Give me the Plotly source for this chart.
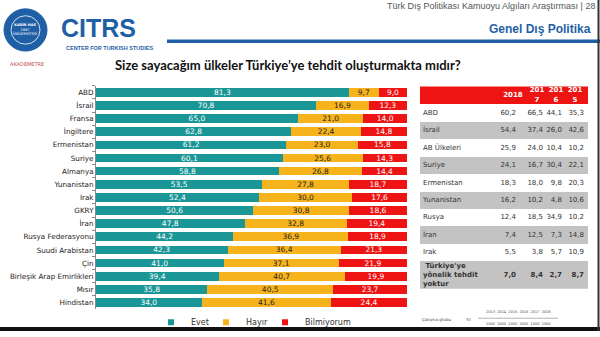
import plotly.graph_objects as go

# ---------------- data ----------------
countries = ["ABD", "İsrail", "Fransa", "İngiltere", "Ermenistan", "Suriye", "Almanya",
             "Yunanistan", "Irak", "GKRY", "İran", "Rusya Federasyonu", "Suudi Arabistan",
             "Çin", "Birleşik Arap Emirlikleri", "Mısır", "Hindistan"]
evet = [81.3, 70.8, 65.0, 62.8, 61.2, 60.1, 58.8, 53.5, 52.4, 50.6, 47.8, 44.2, 42.3,
        41.0, 39.4, 35.8, 34.0]
hayir = [9.7, 16.9, 21.0, 22.4, 23.0, 25.6, 26.8, 27.8, 30.0, 30.8, 32.8, 36.9, 36.4,
         37.1, 40.7, 40.5, 41.6]
bilmiyorum = [9.0, 12.3, 14.0, 14.8, 15.8, 14.3, 14.4, 18.7, 17.6, 18.6, 19.4, 18.9, 21.3,
              21.9, 19.9, 23.7, 24.4]
series_names = ["Evet", "Hayır", "Bilmiyorum"]

table_rows = ["ABD", "İsrail", "AB Ülkeleri", "Suriye", "Ermenistan", "Yunanistan", "Rusya",
              "İran", "Irak", " Türkiye'ye<br>yönelik tehdit<br>yoktur"]
t2018 = [60.2, 54.4, 25.9, 24.1, 18.3, 16.2, 12.4, 7.4, 5.5, 7.0]
t2017 = [66.5, 37.4, 24.0, 16.7, 18.0, 10.2, 18.5, 12.5, 3.8, 8.4]
t2016 = [44.1, 26.0, 10.4, 30.4, 9.8, 4.8, 34.9, 7.3, 5.7, 2.7]
t2015 = [35.3, 42.6, 10.2, 22.1, 20.3, 10.6, 10.2, 14.8, 10.9, 8.7]
table_headers = ["2018", "201<br>7", "201<br>6", "201<br>5"]

# ---------------- style ----------------
TEAL = "#1a9696"
ORANGE = "#f7b31c"
RED = "#ee1414"
GRAY = "#c3c3c3"
BLUE = "#1f5fa6"
W, H = 600, 337

fig = go.Figure()

# ---------------- stacked bars ----------------
legend_ids = ["legend", "legend2", "legend3"]
for name, vals, col, tcol, lg in zip(series_names, [evet, hayir, bilmiyorum],
                                     [TEAL, ORANGE, RED], ["white", "#222222", "white"],
                                     legend_ids):
    fig.add_trace(go.Bar(
        y=countries, x=vals, name=name, orientation="h",
        marker=dict(color=col, line=dict(width=0)),
        text=vals, texttemplate="%{x:.1f}", textposition="inside",
        insidetextanchor="middle", textangle=0, constraintext="none",
        textfont=dict(size=7.5, color=tcol, family="DejaVu Sans"),
        cliponaxis=False, hoverinfo="skip", showlegend=False,
    ))
    # legend entry with a small square symbol
    fig.add_trace(go.Scatter(
        x=[None], y=[None], mode="markers", name=name, legend=lg,
        marker=dict(symbol="square", size=6, color=col), showlegend=True,
    ))

# ---------------- table (drawn on its own axes) ----------------
def fmt(v):
    return f"{v:.1f}".replace(".", ",")

TBL_LEFT, TBL_RIGHT, TBL_TOP = 420, 588, 88
TBL_W = TBL_RIGHT - TBL_LEFT
HEADER_H, ROW_H, LINE_H = 18, 17.8, 9.3

n = len(table_rows)
heights = [HEADER_H] + [max(ROW_H, (r.count("<br>") + 1) * LINE_H) for r in table_rows]
centers = []
acc = 0.0
for h in heights:
    centers.append(acc + h / 2)
    acc += h
TBL_H = acc
fills = [RED] + ["white" if i % 2 == 0 else GRAY for i in range(n)]

fig.add_trace(go.Bar(
    y=centers, x=[TBL_W] * len(centers), base=0, width=heights, orientation="h",
    marker=dict(color=fills, line=dict(width=0)), xaxis="x2", yaxis="y2",
    showlegend=False, hoverinfo="skip",
))

header_x = [93, 117, 136, 155]        # column centres (px from table left)
value_x = [96, 123, 142, 164]         # right edges of value columns
bold = lambda s, i: f"<b>{s}</b>" if i == n - 1 else s

fig.add_trace(go.Scatter(
    x=header_x, y=[centers[0]] * len(header_x), mode="text",
    text=[f"<b>{h}</b>" for h in table_headers], textposition="middle center",
    textfont=dict(size=7, color="white", family="DejaVu Sans"),
    xaxis="x2", yaxis="y2", showlegend=False, hoverinfo="skip", cliponaxis=False,
))
fig.add_trace(go.Scatter(
    x=[3] * n, y=centers[1:], mode="text",
    text=[bold(r, i) for i, r in enumerate(table_rows)], textposition="middle right",
    textfont=dict(size=7, color="#333333", family="DejaVu Sans"),
    xaxis="x2", yaxis="y2", showlegend=False, hoverinfo="skip", cliponaxis=False,
))
for xpos, arr in zip(value_x, [t2018, t2017, t2016, t2015]):
    fig.add_trace(go.Scatter(
        x=[xpos] * n, y=centers[1:], mode="text",
        text=[bold(fmt(v), i) for i, v in enumerate(arr)], textposition="middle left",
        textfont=dict(size=7, color="#333333", family="DejaVu Sans"),
        xaxis="x2", yaxis="y2", showlegend=False, hoverinfo="skip", cliponaxis=False,
    ))

# ---------------- layout ----------------
top_px, bot_px = 87.3, 314.7
legend_style = dict(orientation="h", xanchor="left", yanchor="middle", y=1 - 328 / H,
                    font=dict(size=8, family="DejaVu Sans", color="#333333"),
                    itemwidth=30, bgcolor="rgba(0,0,0,0)")
fig.update_layout(
    width=W, height=H, autosize=False,
    margin=dict(l=0, r=0, t=0, b=0),
    paper_bgcolor="white", plot_bgcolor="white",
    barmode="stack", bargap=0.34,
    separators=",.",
    showlegend=True,
    legend=dict(x=151 / W, **legend_style),
    legend2=dict(x=206 / W, **legend_style),
    legend3=dict(x=265 / W, **legend_style),
    xaxis=dict(domain=[96 / W, 407 / W], range=[0, 100], visible=False, fixedrange=True),
    yaxis=dict(domain=[1 - bot_px / H, 1 - top_px / H], autorange="reversed",
               showline=True, linecolor="#8a8a8a", linewidth=1,
               ticks="outside", ticklen=3, tickcolor="#8a8a8a", tickson="boundaries",
               tickfont=dict(size=7.2, family="DejaVu Sans", color="#222222"),
               showgrid=False),
    xaxis2=dict(domain=[TBL_LEFT / W, TBL_RIGHT / W], range=[0, TBL_W], visible=False,
                anchor="y2", fixedrange=True),
    yaxis2=dict(domain=[1 - (TBL_TOP + TBL_H) / H, 1 - TBL_TOP / H], range=[TBL_H, 0],
                visible=False, anchor="x2", fixedrange=True),
    font=dict(family="DejaVu Sans"),
)

ann = []
ann.append(dict(x=597 / W, y=1 - 6 / H, xref="paper", yref="paper", xanchor="right", yanchor="middle",
                text="Türk Dış Politikası Kamuoyu Algıları Araştırması | 28", showarrow=False,
                font=dict(size=9, family="Liberation Sans", color="#555555")))
ann.append(dict(x=593 / W, y=1 - 30 / H, xref="paper", yref="paper", xanchor="right", yanchor="middle",
                text="<b>Genel Dış Politika</b>", showarrow=False,
                font=dict(size=12, family="Liberation Sans", color=BLUE)))
ann.append(dict(x=288 / W, y=1 - 66 / H, xref="paper", yref="paper", xanchor="center", yanchor="middle",
                text="<b>Size sayacağım ülkeler Türkiye’ye tehdit oluşturmakta mıdır?</b>", showarrow=False,
                font=dict(size=13, family="Lato", color="#111111")))
ann.append(dict(x=98 / W, y=1 - 28 / H, xref="paper", yref="paper", xanchor="center", yanchor="middle",
                text="<b>CITRS</b>", showarrow=False,
                font=dict(size=25, family="Liberation Sans Narrow, Liberation Sans", color=BLUE)))
ann.append(dict(x=109 / W, y=1 - 49 / H, xref="paper", yref="paper", xanchor="center", yanchor="middle",
                text="<b>CENTER FOR TURKISH STUDIES</b>", showarrow=False,
                font=dict(size=5.5, family="Liberation Sans Narrow, Liberation Sans", color=BLUE)))
ann.append(dict(x=27 / W, y=1 - 65 / H, xref="paper", yref="paper", xanchor="center", yanchor="middle",
                text="AKADEMETRE", showarrow=False,
                font=dict(size=5, family="DejaVu Sans", color="#c24a4a")))
ann.append(dict(x=25 / W, y=1 - 30 / H, xref="paper", yref="paper", xanchor="center", yanchor="middle",
                text="<b>KADİR HAS</b><br>1997<br>ÜNİVERSİTESİ", showarrow=False,
                font=dict(size=3.5, family="DejaVu Sans", color="white")))
ann.append(dict(x=420 / W, y=1 - 325 / H, xref="paper", yref="paper", xanchor="left", yanchor="middle",
                text="Çalışma grubu", showarrow=False, font=dict(size=4, color="#444444")))
ann.append(dict(x=463 / W, y=1 - 325 / H, xref="paper", yref="paper", xanchor="left", yanchor="middle",
                text="Yıl", showarrow=False, font=dict(size=4, color="#444444")))
ann.append(dict(x=518 / W, y=1 - 318 / H, xref="paper", yref="paper", xanchor="center", yanchor="middle",
                text="2013  2014  2015  2016  2017  2018", showarrow=False, font=dict(size=3.5, color="#444444")))
ann.append(dict(x=518 / W, y=1 - 330 / H, xref="paper", yref="paper", xanchor="center", yanchor="middle",
                text="1000  1000  1000  1000  1000  1000", showarrow=False, font=dict(size=3.5, color="#444444")))
fig.update_layout(annotations=ann)

shapes = []
shapes.append(dict(type="circle", xref="paper", yref="paper", x0=4 / W, x1=47 / W,
                   y0=1 - 52 / H, y1=1 - 9 / H, fillcolor=BLUE, line=dict(color=BLUE, width=1)))
shapes.append(dict(type="circle", xref="paper", yref="paper", x0=11 / W, x1=40 / W,
                   y0=1 - 45 / H, y1=1 - 16 / H, fillcolor="rgba(0,0,0,0)", line=dict(color="white", width=0.8)))
shapes.append(dict(type="line", xref="paper", yref="paper", x0=167 / W, x1=1,
                   y0=1 - 42 / H, y1=1 - 42 / H, line=dict(color=BLUE, width=3.5)))
shapes.append(dict(type="line", xref="paper", yref="paper", x0=478 / W, x1=558 / W,
                   y0=1 - 324 / H, y1=1 - 324 / H, line=dict(color="#666666", width=0.5)))
shapes.append(dict(type="line", xref="paper", yref="paper", x0=0, x1=1,
                   y0=2 / H, y1=2 / H, line=dict(color="#111111", width=4)))
shapes.append(dict(type="line", xref="paper", yref="paper", x0=1 - 1.5 / W, x1=1 - 1.5 / W,
                   y0=0, y1=1, line=dict(color="#333333", width=2)))
fig.update_layout(shapes=shapes)

fig.write_html("out.html")
